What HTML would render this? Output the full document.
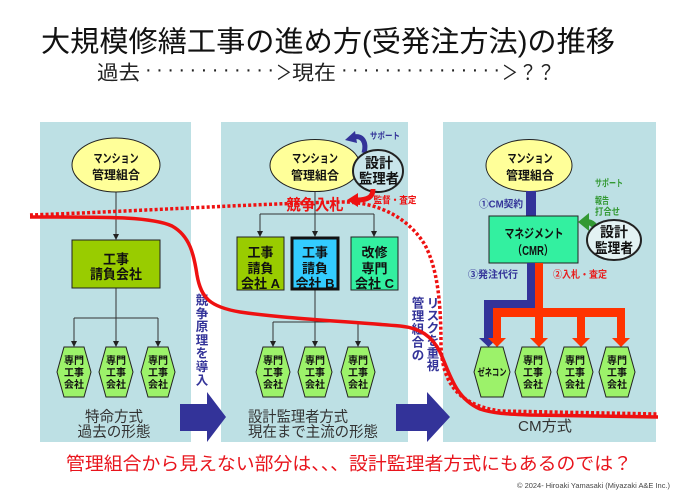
<!DOCTYPE html>
<html><head><meta charset="utf-8">
<style>
html,body{margin:0;padding:0;background:#fff;}
svg{display:block;}
</style></head>
<body>
<svg width="699" height="494" viewBox="0 0 699 494" xmlns="http://www.w3.org/2000/svg" font-family="'Liberation Sans','Noto Sans CJK JP',sans-serif">
<rect width="699" height="494" fill="#fff"/>

<!-- Title -->
<text x="41" y="51.5" font-size="29" fill="#111" textLength="574" lengthAdjust="spacingAndGlyphs">大規模修繕工事の進め方(受発注方法)の推移</text>
<g font-size="20" fill="#222">
<text x="97" y="79.5" textLength="43" lengthAdjust="spacingAndGlyphs">過去</text>
<text x="145" y="76" textLength="129" lengthAdjust="spacing">············</text>
<text x="276" y="79.5" textLength="16" lengthAdjust="spacingAndGlyphs">＞</text>
<text x="292" y="79.5" textLength="44" lengthAdjust="spacingAndGlyphs">現在</text>
<text x="341" y="76" textLength="159" lengthAdjust="spacing">···············</text>
<text x="502" y="79.5" textLength="16" lengthAdjust="spacingAndGlyphs">＞</text>
<text x="519" y="79.5" textLength="36" lengthAdjust="spacingAndGlyphs">？？</text>
</g>

<!-- Panels -->
<rect x="40" y="122" width="151" height="320" fill="#bde0e4"/>
<rect x="221" y="122" width="187" height="320" fill="#bde0e4"/>
<rect x="443" y="122" width="213" height="320" fill="#bde0e4"/>

<!-- Big arrows -->
<polygon points="180,404 207,404 207,392 226,417 207,442 207,431 180,431" fill="#333399"/>
<polygon points="396,404 427,404 427,392 450,417 427,442 427,431 396,431" fill="#333399"/>

<!-- ===== Panel 1 ===== -->
<g stroke="#333" stroke-width="1" fill="none">
<line x1="116" y1="192" x2="116" y2="235"/>
<line x1="116" y1="288" x2="116" y2="318"/>
<line x1="74" y1="318" x2="158" y2="318"/>
<line x1="74" y1="318" x2="74" y2="342"/>
<line x1="116" y1="318" x2="116" y2="342"/>
<line x1="158" y1="318" x2="158" y2="342"/>
</g>
<g fill="#222">
<polygon points="113,234 119,234 116,240"/>
<polygon points="71,341 77,341 74,347"/>
<polygon points="113,341 119,341 116,347"/>
<polygon points="155,341 161,341 158,347"/>
</g>
<ellipse cx="116" cy="165" rx="44" ry="27" fill="#ffff99" stroke="#222" stroke-width="1"/>
<g font-size="12" font-weight="bold" fill="#111" text-anchor="middle">
<text x="116" y="162.5" textLength="45" lengthAdjust="spacingAndGlyphs">マンション</text>
<text x="116" y="179" textLength="48" lengthAdjust="spacingAndGlyphs">管理組合</text>
</g>
<rect x="72" y="240" width="88" height="48" fill="#99cc00" stroke="#222" stroke-width="1"/>
<g font-size="13.5" font-weight="bold" fill="#111" text-anchor="middle">
<text x="116" y="264" textLength="26" lengthAdjust="spacingAndGlyphs">工事</text>
<text x="116" y="279" textLength="52" lengthAdjust="spacingAndGlyphs">請負会社</text>
</g>
<g fill="#9cf26a" stroke="#222" stroke-width="1">
<polygon points="64,347 84,347 91,372 84,397 64,397 57,372"/>
<polygon points="106,347 126,347 133,372 126,397 106,397 99,372"/>
<polygon points="148,347 168,347 175,372 168,397 148,397 141,372"/>
</g>
<g font-size="10" font-weight="bold" fill="#111" text-anchor="middle">
<text x="74" y="363.8">専門</text><text x="74" y="375.8">工事</text><text x="74" y="387.8">会社</text>
<text x="116" y="363.8">専門</text><text x="116" y="375.8">工事</text><text x="116" y="387.8">会社</text>
<text x="158" y="363.8">専門</text><text x="158" y="375.8">工事</text><text x="158" y="387.8">会社</text>
</g>
<g font-size="15" fill="#333" text-anchor="middle">
<text x="114" y="421.5" textLength="58" lengthAdjust="spacingAndGlyphs">特命方式</text>
<text x="114" y="436.5" textLength="73" lengthAdjust="spacingAndGlyphs">過去の形態</text>
</g>

<!-- ===== Panel 2 ===== -->
<g stroke="#333" stroke-width="1" fill="none">
<line x1="315" y1="191" x2="315" y2="214"/>
<line x1="260" y1="214" x2="374" y2="214"/>
<line x1="260" y1="214" x2="260" y2="232"/>
<line x1="315" y1="214" x2="315" y2="232"/>
<line x1="374" y1="214" x2="374" y2="232"/>
<line x1="315" y1="290" x2="315" y2="322"/>
<line x1="273" y1="322" x2="358" y2="322"/>
<line x1="273" y1="322" x2="273" y2="342"/>
<line x1="315" y1="322" x2="315" y2="342"/>
<line x1="358" y1="322" x2="358" y2="342"/>
</g>
<g fill="#222">
<polygon points="257,231 263,231 260,237"/>
<polygon points="312,231 318,231 315,237"/>
<polygon points="371,231 377,231 374,237"/>
<polygon points="270,341 276,341 273,347"/>
<polygon points="312,341 318,341 315,347"/>
<polygon points="355,341 361,341 358,347"/>
</g>
<ellipse cx="315" cy="165.5" rx="45" ry="26" fill="#ffff99" stroke="#222" stroke-width="1"/>
<g font-size="12" font-weight="bold" fill="#111" text-anchor="middle">
<text x="315" y="162.5" textLength="46" lengthAdjust="spacingAndGlyphs">マンション</text>
<text x="315" y="179.5" textLength="48" lengthAdjust="spacingAndGlyphs">管理組合</text>
</g>
<!-- support arrow (navy) -->
<path d="M364,153 C367,142 362,135 354,137" stroke="#333399" stroke-width="5" fill="none"/>
<polygon points="345,140 355,131 357,143" fill="#333399"/>
<ellipse cx="378" cy="171" rx="25" ry="21" fill="#c9e5ea" stroke="#222" stroke-width="2"/>
<g font-size="14" font-weight="bold" fill="#111" text-anchor="middle">
<text x="379" y="168">設計</text>
<text x="379" y="183.5" textLength="40" lengthAdjust="spacingAndGlyphs">監理者</text>
</g>
<!-- red arrow -->
<path d="M373,189 C373,197 368,200 357,200" stroke="#ee1111" stroke-width="5" fill="none"/>
<polygon points="347,200 358,193 358,207" fill="#ee1111"/>
<text x="385" y="139" font-size="9" font-weight="bold" fill="#333399" text-anchor="middle" textLength="30" lengthAdjust="spacingAndGlyphs">サポート</text>
<text x="395" y="203.5" font-size="9.5" font-weight="bold" fill="#ee1111" text-anchor="middle" textLength="43" lengthAdjust="spacingAndGlyphs">監督・査定</text>

<rect x="237" y="237" width="47" height="53" fill="#99cc00" stroke="#222" stroke-width="1"/>
<rect x="292" y="238" width="46" height="51" fill="#33ccff" stroke="#111" stroke-width="3"/>
<rect x="351" y="237" width="47" height="53" fill="#33f0a0" stroke="#222" stroke-width="1"/>
<g font-size="13" font-weight="bold" fill="#111" text-anchor="middle">
<text x="260.5" y="257">工事</text><text x="260.5" y="273">請負</text><text x="260.5" y="288">会社 A</text>
<text x="315" y="257">工事</text><text x="315" y="273">請負</text><text x="315" y="288">会社 B</text>
<text x="374.5" y="257">改修</text><text x="374.5" y="273">専門</text><text x="374.5" y="288">会社 C</text>
</g>
<g fill="#9cf26a" stroke="#222" stroke-width="1">
<polygon points="263,347 283,347 290,372 283,397 263,397 256,372"/>
<polygon points="305,347 325,347 332,372 325,397 305,397 298,372"/>
<polygon points="348,347 368,347 375,372 368,397 348,397 341,372"/>
</g>
<g font-size="10" font-weight="bold" fill="#111" text-anchor="middle">
<text x="273" y="363.8">専門</text><text x="273" y="375.8">工事</text><text x="273" y="387.8">会社</text>
<text x="315" y="363.8">専門</text><text x="315" y="375.8">工事</text><text x="315" y="387.8">会社</text>
<text x="358" y="363.8">専門</text><text x="358" y="375.8">工事</text><text x="358" y="387.8">会社</text>
</g>
<g font-size="15" fill="#333">
<text x="248" y="421.5" textLength="100" lengthAdjust="spacingAndGlyphs">設計監理者方式</text>
<text x="248" y="436.5" textLength="130" lengthAdjust="spacingAndGlyphs">現在まで主流の形態</text>
</g>

<!-- ===== Panel 3 ===== -->
<ellipse cx="529" cy="165.5" rx="43" ry="26" fill="#ffff99" stroke="#222" stroke-width="1"/>
<g font-size="12" font-weight="bold" fill="#111" text-anchor="middle">
<text x="530" y="162.5" textLength="45" lengthAdjust="spacingAndGlyphs">マンション</text>
<text x="530" y="179.5" textLength="48" lengthAdjust="spacingAndGlyphs">管理組合</text>
</g>
<rect x="526" y="191" width="10" height="25" fill="#333399"/>
<text x="523" y="207.5" font-size="10" font-weight="bold" fill="#333399" text-anchor="end" textLength="44" lengthAdjust="spacingAndGlyphs">①CM契約</text>
<rect x="489" y="216" width="89" height="47" fill="#33f0a0" stroke="#222" stroke-width="1"/>
<g font-size="12.5" font-weight="bold" fill="#111" text-anchor="middle">
<text x="534" y="238" textLength="59" lengthAdjust="spacingAndGlyphs">マネジメント</text>
<text x="533" y="255" textLength="41" lengthAdjust="spacingAndGlyphs">（CMR）</text>
</g>
<!-- navy path -->
<rect x="527" y="263" width="8" height="45" fill="#333399"/>
<rect x="484" y="300" width="51" height="8" fill="#333399"/>
<rect x="484" y="300" width="9" height="39" fill="#333399"/>
<polygon points="479,338 498,338 488.5,347" fill="#333399"/>
<!-- red path -->
<rect x="535" y="263" width="8" height="54" fill="#ff3300"/>
<rect x="493" y="308" width="132" height="9" fill="#ff3300"/>
<g fill="#ff3300">
<rect x="493" y="308" width="8" height="31"/>
<rect x="535" y="308" width="8" height="31"/>
<rect x="577" y="308" width="8" height="31"/>
<rect x="617" y="308" width="8" height="31"/>
<polygon points="488,338 506,338 497,347"/>
<polygon points="530,338 548,338 539,347"/>
<polygon points="572,338 590,338 581,347"/>
<polygon points="612,338 630,338 621,347"/>
</g>
<text x="468" y="278" font-size="10" font-weight="bold" fill="#333399" textLength="50" lengthAdjust="spacingAndGlyphs">③発注代行</text>
<text x="553" y="278" font-size="10" font-weight="bold" fill="#e81e1e" textLength="54" lengthAdjust="spacingAndGlyphs">②入札・査定</text>
<g font-size="9.5" font-weight="bold" fill="#339933">
<text x="595" y="186.5" textLength="28" lengthAdjust="spacingAndGlyphs">サポート</text>
<text x="595" y="204" textLength="14" lengthAdjust="spacingAndGlyphs">報告</text>
<text x="595" y="215" textLength="25" lengthAdjust="spacingAndGlyphs">打合せ</text>
</g>
<!-- green arrow -->
<path d="M598,234 C596,225 592,222 586,222" stroke="#339933" stroke-width="6" fill="none"/>
<polygon points="578,222 589,213 589,231" fill="#339933"/>
<ellipse cx="614" cy="240" rx="27" ry="20" fill="#e3f2f3" stroke="#222" stroke-width="2"/>
<g font-size="14" font-weight="bold" fill="#111" text-anchor="middle">
<text x="614" y="237">設計</text>
<text x="614" y="253" textLength="38" lengthAdjust="spacingAndGlyphs">監理者</text>
</g>
<g fill="#9cf26a" stroke="#222" stroke-width="1">
<polygon points="481,347 503,347 510,372 503,397 481,397 474,372"/>
<polygon points="522,347 544,347 551,372 544,397 522,397 515,372"/>
<polygon points="564,347 586,347 593,372 586,397 564,397 557,372"/>
<polygon points="606,347 628,347 635,372 628,397 606,397 599,372"/>
</g>
<g font-size="10" font-weight="bold" fill="#111" text-anchor="middle">
<text x="492" y="375.8" textLength="29" lengthAdjust="spacingAndGlyphs">ゼネコン</text>
<text x="533" y="363.8">専門</text><text x="533" y="375.8">工事</text><text x="533" y="387.8">会社</text>
<text x="575" y="363.8">専門</text><text x="575" y="375.8">工事</text><text x="575" y="387.8">会社</text>
<text x="617" y="363.8">専門</text><text x="617" y="375.8">工事</text><text x="617" y="387.8">会社</text>
</g>
<text x="518" y="431" font-size="15" fill="#333" textLength="54" lengthAdjust="spacingAndGlyphs">CM方式</text>

<!-- Vertical texts -->
<g font-size="12.5" font-weight="bold" fill="#333399" text-anchor="middle">
<text x="202" y="304.5">競</text>
<text x="202" y="317.8">争</text>
<text x="202" y="331.1">原</text>
<text x="202" y="344.4">理</text>
<text x="202" y="357.7">を</text>
<text x="202" y="371">導</text>
<text x="202" y="384.3">入</text>

<text x="418" y="307.5">管</text>
<text x="418" y="320.5">理</text>
<text x="418" y="333.5">組</text>
<text x="418" y="346.5">合</text>
<text x="418" y="359.5">の</text>

<text x="433" y="307.5">リ</text>
<text x="433" y="320">ス</text>
<text x="433" y="332.5">ク</text>
<text x="433" y="345">を</text>
<text x="433" y="357.5">重</text>
<text x="433" y="370">視</text>
</g>

<!-- Red lines -->
<path d="M30,215 C120,212 250,204 340,202 C380,201 410,220 425,245 C437,268 441,300 441,345 C442,385 460,405 500,411 L658,414" stroke="#ee1111" stroke-width="3.5" fill="none" stroke-dasharray="3 2.2"/>
<path d="M30,217 C100,217 150,216 172,226 C190,236 194,255 197,275 C201,298 210,307 240,312 C280,318 340,321 400,326 C420,328 432,336 440,352 C450,374 455,398 480,409 C495,414 510,414 530,415 L658,417" stroke="#ee1111" stroke-width="3.5" fill="none"/>

<!-- 競争入札 on top -->
<text x="315" y="210" font-size="15.5" font-weight="bold" fill="#ee1111" text-anchor="middle" textLength="57" lengthAdjust="spacingAndGlyphs">競争入札</text>

<!-- Bottom -->
<text x="66" y="470" font-size="18" fill="#e8141c" textLength="566" lengthAdjust="spacingAndGlyphs">管理組合から見えない部分は、、、設計監理者方式にもあるのでは？</text>
<text x="517" y="488" font-size="7.5" fill="#444" textLength="153" lengthAdjust="spacingAndGlyphs">© 2024- Hiroaki Yamasaki (Miyazaki A&amp;E Inc.)</text>
</svg>
</body></html>
